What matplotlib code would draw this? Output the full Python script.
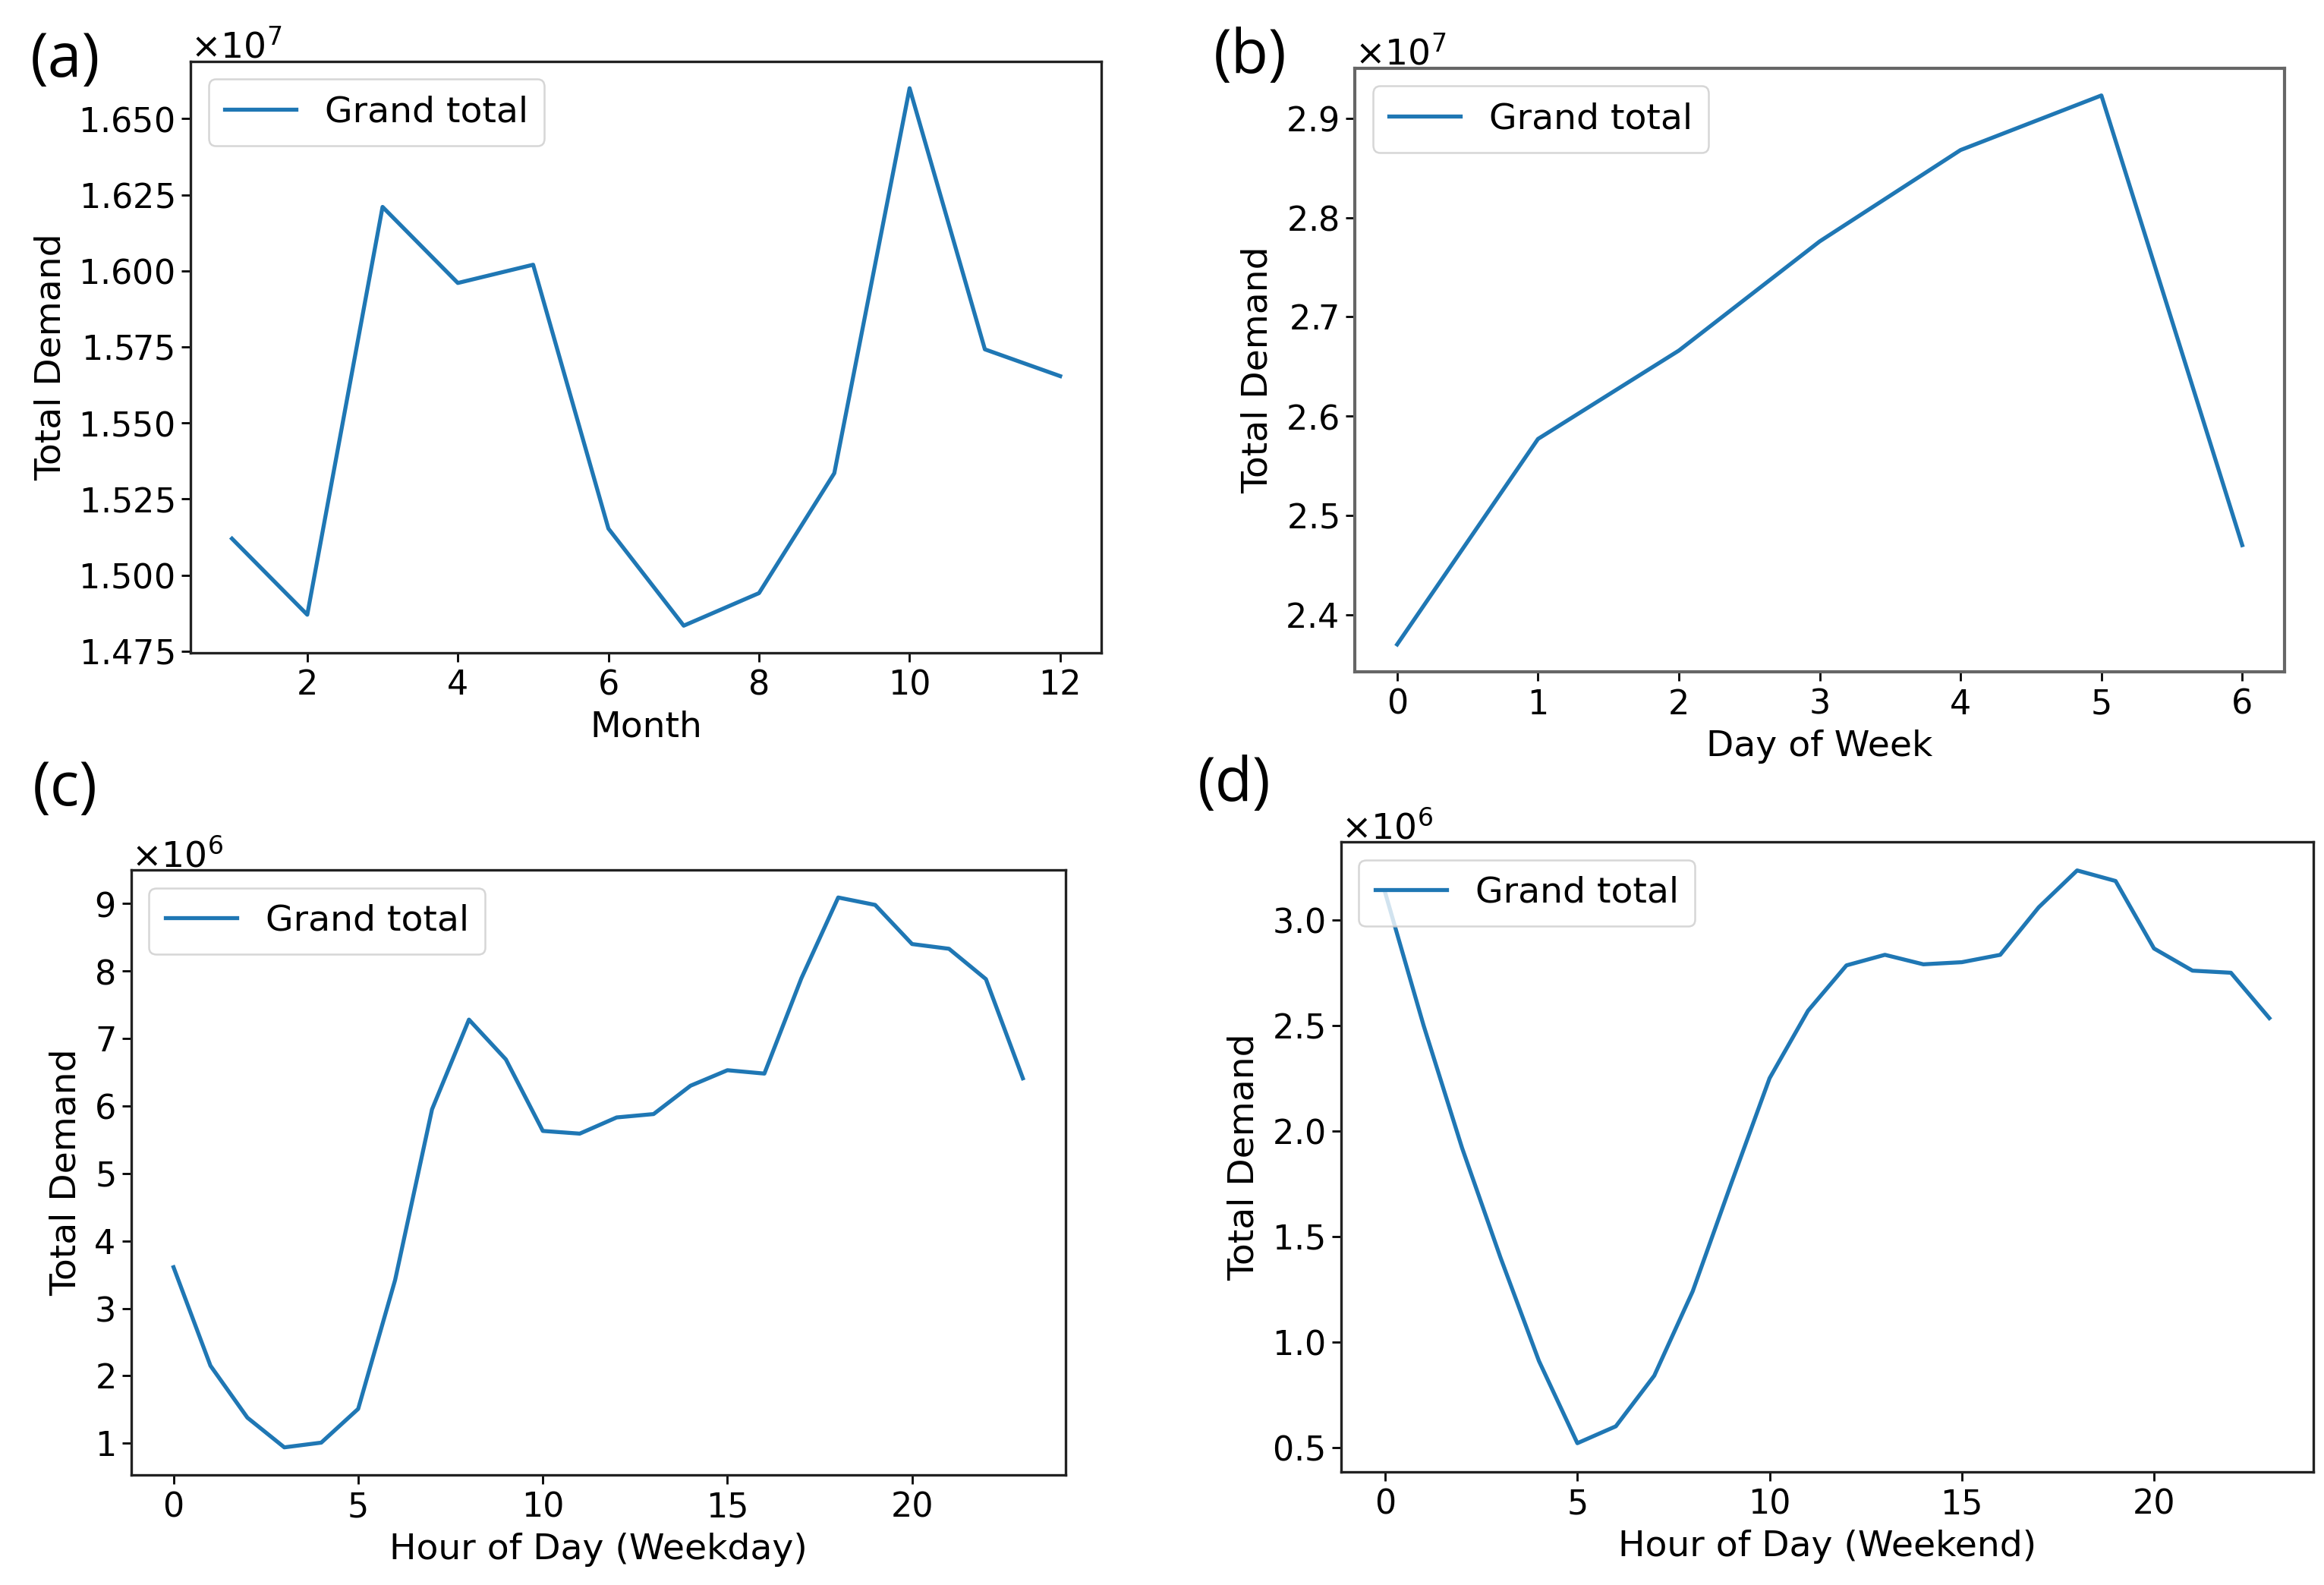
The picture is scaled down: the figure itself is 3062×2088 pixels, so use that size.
import matplotlib
matplotlib.use("Agg")
import matplotlib.pyplot as plt
from matplotlib.ticker import MultipleLocator, ScalarFormatter

# ---------------- data ----------------
months = [1, 2, 3, 4, 5, 6, 7, 8, 9, 10, 11, 12]
month_demand = [1.512e7, 1.487e7, 1.621e7, 1.596e7, 1.602e7, 1.5153e7,
                1.4834e7, 1.4941e7, 1.5335e7, 1.660e7, 1.5742e7, 1.5654e7]

days = [0, 1, 2, 3, 4, 5, 6]
day_demand = [2.370e7, 2.577e7, 2.666e7, 2.776e7, 2.868e7, 2.923e7, 2.470e7]

hours = list(range(24))
weekday_demand = [3.61e6, 2.15e6, 1.38e6, 0.94e6, 1.01e6, 1.51e6, 3.42e6, 5.95e6,
                  7.28e6, 6.69e6, 5.63e6, 5.59e6, 5.83e6, 5.88e6, 6.30e6, 6.53e6,
                  6.48e6, 7.89e6, 9.09e6, 8.98e6, 8.40e6, 8.33e6, 7.88e6, 6.41e6]
weekend_demand = [3.13e6, 2.50e6, 1.92e6, 1.40e6, 0.91e6, 0.52e6, 0.60e6, 0.84e6,
                  1.24e6, 1.75e6, 2.25e6, 2.57e6, 2.785e6, 2.835e6, 2.79e6, 2.80e6,
                  2.835e6, 3.06e6, 3.235e6, 3.185e6, 2.865e6, 2.76e6, 2.75e6, 2.535e6]

series_label = "Grand total"
panel_labels = ["(a)", "(b)", "(c)", "(d)"]
xlabels = ["Month", "Day of Week", "Hour of Day (Weekday)", "Hour of Day (Weekend)"]
ylabel = "Total Demand"

# ---------------- figure ----------------
plt.rcParams['font.family'] = ['DejaVu Sans']
fig = plt.figure(figsize=(30.62, 20.88), dpi=100)

rects = [
    [0.082, 0.5883, 0.392, 0.373],
    [0.583, 0.5761, 0.400, 0.381],
    [0.0564, 0.0695, 0.402, 0.3816],
    [0.577, 0.0714, 0.4185, 0.3975],
]
xs = [months, days, hours, hours]
ys = [month_demand, day_demand, weekday_demand, weekend_demand]
ysteps = [0.025e7, 0.1e7, 1e6, 0.5e6]
xsteps = [2, 1, 5, 5]
label_pos = [(0.028, 0.962), (0.538, 0.964), (0.028, 0.502), (0.531, 0.505)]

TICK = 32
LAB = 34
for i in range(4):
    ax = fig.add_axes(rects[i])
    ax.plot(xs[i], ys[i], color='#1f77b4', lw=3.8, label=series_label)
    ax.yaxis.set_major_locator(MultipleLocator(ysteps[i]))
    ax.xaxis.set_major_locator(MultipleLocator(xsteps[i]))
    fmt = ScalarFormatter(useMathText=True)
    fmt.set_scientific(True)
    fmt.set_powerlimits((0, 0))
    ax.yaxis.set_major_formatter(fmt)
    ax.yaxis.get_offset_text().set_fontsize(34)
    ax.tick_params(labelsize=TICK, length=8.5, width=2.0, pad=7)
    spine_color = '#666666' if i == 1 else '#222222'
    for s in ax.spines.values():
        s.set_linewidth(2.4 if i != 1 else 3.0)
        s.set_color(spine_color)
    ax.set_xlabel(xlabels[i], fontsize=LAB, labelpad=8)
    ax.set_ylabel(ylabel, fontsize=LAB, labelpad=10)
    leg = ax.legend(loc='upper left', fontsize=LAB, handlelength=2.0,
                    borderpad=0.45, framealpha=0.8)
    leg.get_frame().set_linewidth(1.8)
    fig.text(label_pos[i][0], label_pos[i][1], panel_labels[i], fontsize=58,
             ha='center', va='center', family=['Open Sans', 'DejaVu Sans'])

fig.savefig("out.png", dpi=100)
